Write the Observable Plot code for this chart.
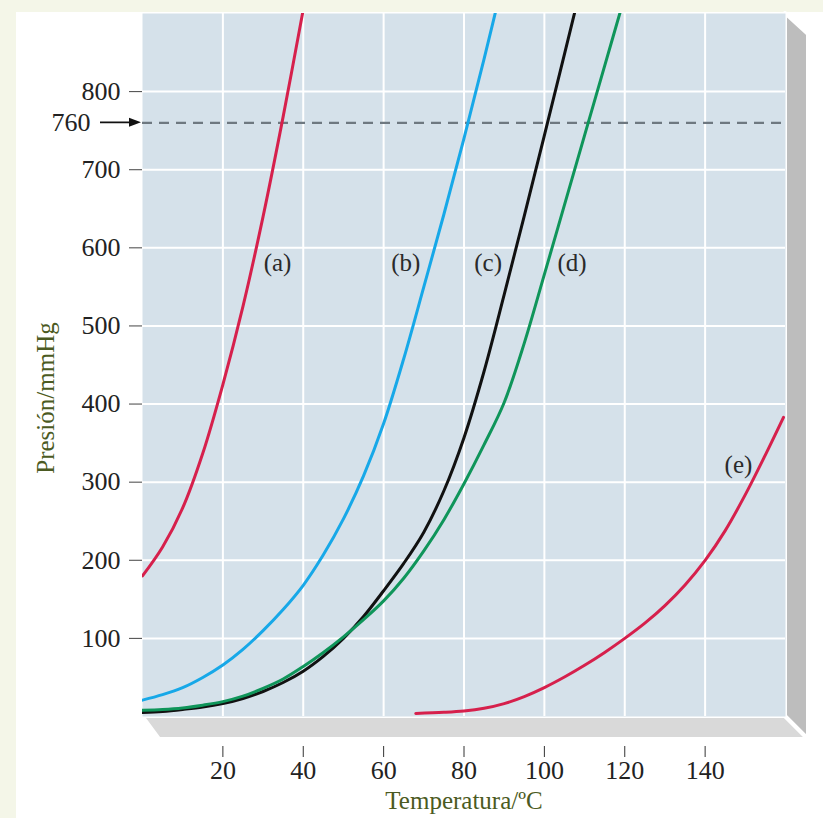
<!DOCTYPE html>
<html>
<head>
<meta charset="utf-8">
<script src="https://cdn.jsdelivr.net/npm/d3@7"></script>
<script src="https://cdn.jsdelivr.net/npm/@observablehq/plot@0.6"></script>
<style>
  html, body { margin: 0; padding: 0; background: #f4f6e8; }
  #card { position: absolute; left: 16px; top: 12px; width: 807px; height: 806px; background: #ffffff; }
  #chart { position: absolute; left: 0; top: 0; }
</style>
</head>
<body>
<div id="card"></div>
<div id="chart"></div>
<script>
// ---- data ----
const seriesNames = ["a", "b", "c", "d", "e"];
const seriesColors = ["#d6204c", "#17a8e8", "#111111", "#0f955a", "#d6204c"];

const tempA = [0, 5, 10, 15, 20, 25, 30, 35, 40];
const presA = [180, 217, 267, 337, 425, 525, 640, 768, 905];

const tempB = [0, 5, 10, 15, 20, 25, 30, 35, 40, 45, 50, 55, 60, 65, 70, 75, 80, 85, 90];
const presB = [21, 28, 37, 50, 66, 86, 110, 137, 168, 207, 253, 308, 375, 458, 550, 643, 740, 842, 948];

const tempC = [0, 5, 10, 15, 20, 25, 30, 35, 40, 45, 50, 55, 60, 65, 70, 75, 80, 85, 90, 95, 100, 105, 110];
const presC = [5, 6.5, 9, 12, 16.5, 23, 32, 43.5, 58, 77, 100, 128, 161, 196, 236, 289, 357, 442, 540, 641, 744, 848, 953];

const tempD = [0, 5, 10, 15, 20, 25, 30, 35, 40, 45, 50, 55, 60, 65, 70, 75, 80, 85, 90, 95, 100, 105, 110, 115, 120];
const presD = [8, 9, 11, 14.5, 19, 26, 36, 48, 64, 82, 102, 124, 148, 177, 212, 252, 298, 348, 402, 478, 566, 655, 744, 833, 922];

const tempE = [68, 75, 80, 85, 90, 95, 100, 105, 110, 115, 120, 125, 130, 135, 140, 145, 150, 155, 159.5];
const presE = [4, 5.3, 7, 10.5, 16.5, 25.5, 37, 50.5, 65.5, 82, 100, 119.5, 142, 168.5, 200, 238, 284, 335, 383];

const labelTexts = ["(a)", "(b)", "(c)", "(d)", "(e)"];
const labelTemps = [33.6, 65.5, 86, 106.9, 148.3];
const labelPres = [581, 581, 581, 581, 322];

const xTicks = [20, 40, 60, 80, 100, 120, 140];
const yTicks = [100, 200, 300, 400, 500, 600, 700, 800];
const referencePressure = 760;

const xTitle = "Temperatura/ºC";
const yTitle = "Presión/mmHg";

// ---- build table ----
const temps = [tempA, tempB, tempC, tempD, tempE];
const pres = [presA, presB, presC, presD, presE];
const rows = [];
seriesNames.forEach((s, i) => temps[i].forEach((t, j) => rows.push({serie: s, T: t, P: pres[i][j]})));
const labels = labelTexts.map((t, i) => ({text: t, T: labelTemps[i], P: labelPres[i]}));

// 3D base / side faces drawn from the frame dimensions
function faces(index, scales, values, dim) {
  const L = dim.marginLeft, R = dim.width - dim.marginRight;
  const T = dim.marginTop, B = dim.height - dim.marginBottom;
  const d = 23;
  const g = d3.create("svg:g");
  g.append("polygon")
    .attr("points", `${L},${B} ${R},${B} ${R + d},${B + d} ${L + d - 6},${B + d}`)
    .attr("fill", "#d9d9d9").attr("stroke", "#ffffff").attr("stroke-width", 4).attr("stroke-linejoin", "round");
  g.append("polygon")
    .attr("points", `${R},${T} ${R + d},${T + d - 2} ${R + d},${B + d} ${R},${B}`)
    .attr("fill", "#bdbdbd").attr("stroke", "#ffffff").attr("stroke-width", 4).attr("stroke-linejoin", "round");
  return g.node();
}

// arrow pointing at the reference pressure on the y axis
function refArrow(index, scales, values, dim) {
  const y = scales.y(referencePressure);
  const x2 = dim.marginLeft - 1;
  const x1 = x2 - 41;
  const g = d3.create("svg:g");
  g.append("line").attr("x1", x1).attr("x2", x2 - 8).attr("y1", y).attr("y2", y)
    .attr("stroke", "#111").attr("stroke-width", 1.6);
  g.append("path").attr("d", `M${x2},${y} L${x2 - 12},${y - 4.5} L${x2 - 12},${y + 4.5} Z`).attr("fill", "#111");
  return g.node();
}

const chart = Plot.plot({
  width: 823,
  height: 818,
  marginLeft: 142,
  marginRight: 38,
  marginTop: 13,
  marginBottom: 102,
  x: {domain: [0, 160], label: null},
  y: {domain: [0, 900], label: null},
  color: {domain: seriesNames, range: seriesColors},
  style: {
    fontFamily: "'Liberation Serif', 'Times New Roman', serif",
    fontSize: "26px",
    background: "transparent",
    overflow: "visible",
    color: "#222"
  },
  marks: [
    faces,
    Plot.frame({fill: "#d5e1ea", stroke: "none"}),
    Plot.gridX(xTicks, {stroke: "#ffffff", strokeOpacity: 1, strokeWidth: 2}),
    Plot.gridY(yTicks, {stroke: "#ffffff", strokeOpacity: 1, strokeWidth: 2}),
    Plot.ruleY([referencePressure], {stroke: "#6e7880", strokeWidth: 2.2, strokeDasharray: "10,7"}),
    Plot.line(rows, {x: "T", y: "P", z: "serie", stroke: "serie", strokeWidth: 3, curve: "catmull-rom", clip: true}),
    Plot.text(labels, {x: "T", y: "P", text: "text", fill: "#2a2a2a", fontSize: 25}),
    Plot.axisY(yTicks, {tickSize: 13, tickPadding: 9, label: null, stroke: "#444", fill: "#222", fontSize: 26}),
    Plot.text([referencePressure], {y: d => d, text: d => String(d), frameAnchor: "left", dx: -52, textAnchor: "end", fill: "#222", fontSize: 26}),
    refArrow,
    Plot.axisX(xTicks, {tickSize: 11, tickPadding: 3, dy: 30, label: null, stroke: "#333", fill: "#222", fontSize: 26}),
    Plot.text([xTitle], {frameAnchor: "bottom", dy: 84, text: d => d, fill: "#4b5a22", fontSize: 25, lineAnchor: "middle", textAnchor: "middle"}),
    Plot.text([yTitle], {frameAnchor: "left", dx: -97, dy: 33, rotate: -90, text: d => d, fill: "#4b5a22", fontSize: 25, lineAnchor: "middle", textAnchor: "middle"})
  ]
});
document.getElementById("chart").appendChild(chart);
</script>
</body>
</html>
